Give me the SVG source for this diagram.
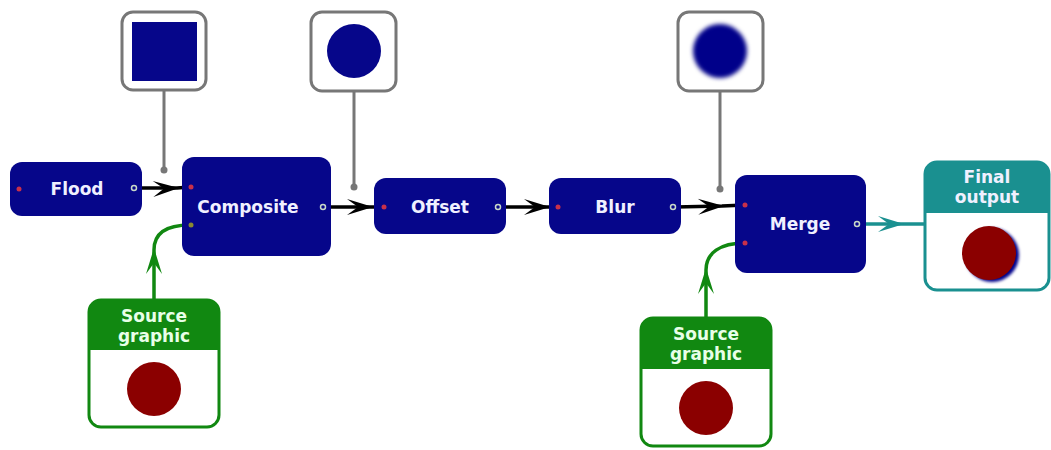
<svg xmlns="http://www.w3.org/2000/svg" width="1051" height="450" viewBox="0 0 1051 450">
<style>
.node{fill:#06068a;}
.lbl{font-family:"DejaVu Sans","Liberation Sans",sans-serif;font-weight:bold;font-size:17px;fill:#f0f0ff;text-anchor:middle;}
.thumb{fill:#fff;stroke:#777;stroke-width:3;}
.tline{stroke:#777;stroke-width:3;fill:none;}
.inp{fill:#c8304a;}
.outp{fill:none;stroke:#c8d8c8;stroke-width:1.5;}
.blk{stroke:#000;stroke-width:3.5;fill:none;marker-mid:url(#ab);}
.grn{stroke:#118811;stroke-width:3.5;fill:none;marker-mid:url(#ag);}
.teal{stroke:#1a9090;stroke-width:3.5;fill:none;marker-mid:url(#at);}
</style>
<defs>
<marker id="ab" viewBox="-26 -9 28 18" markerWidth="28" markerHeight="18" refX="0" refY="0" orient="auto" markerUnits="userSpaceOnUse"><path d="M2,0 L-24,-8 L-13,0 L-24,8 z" fill="#000"/></marker>
<marker id="ag" viewBox="-26 -9 28 18" markerWidth="28" markerHeight="18" refX="0" refY="0" orient="auto" markerUnits="userSpaceOnUse"><path d="M2,0 L-24,-8 L-13,0 L-24,8 z" fill="#118811"/></marker>
<marker id="at" viewBox="-26 -9 28 18" markerWidth="28" markerHeight="18" refX="0" refY="0" orient="auto" markerUnits="userSpaceOnUse"><path d="M2,0 L-24,-8 L-13,0 L-24,8 z" fill="#1a9090"/></marker>
<filter id="blur" x="-50%" y="-50%" width="200%" height="200%"><feGaussianBlur stdDeviation="2"/></filter>
<filter id="blur2" x="-50%" y="-50%" width="200%" height="200%"><feGaussianBlur stdDeviation="1.5"/></filter>
</defs>

<g id="connectors">
<path class="blk" d="M135,188 L177,188 L190,187"/>
<path class="blk" d="M325,207 L371,207 L384,207"/>
<path class="blk" d="M500,207 L548,207 L557,207"/>
<path class="blk" d="M675,207 L722,206 L745,205"/>
<path class="teal" d="M859,224 L902,224 L925,224"/>
<path class="grn" d="M154,300 L154,250 C154,233 166,225 190,225"/>
<path class="grn" d="M706,318 L706,270 C706,253 720,243 745,243"/>
<path class="tline" d="M164,90 L164,170"/><circle cx="164" cy="170" r="3.5" fill="#777"/>
<path class="tline" d="M354,91 L354,187"/><circle cx="354" cy="187" r="3.5" fill="#777"/>
<path class="tline" d="M720,91 L720,189"/><circle cx="720" cy="189" r="3.5" fill="#777"/>
</g>

<g id="thumb-flood">
<rect class="thumb" x="122" y="12" width="84" height="78" rx="11"/>
<rect x="132" y="22" width="65" height="59" fill="#06068a"/>
</g>
<g id="thumb-composite">
<rect class="thumb" x="311" y="12" width="85" height="79" rx="11"/>
<circle cx="354" cy="51" r="27" fill="#06068a"/>
</g>
<g id="thumb-blur">
<rect class="thumb" x="678" y="12" width="85" height="79" rx="11"/>
<circle cx="720" cy="51" r="27" fill="#06068a" filter="url(#blur)"/>
</g>

<g id="flood">
<rect class="node" x="10" y="162" width="132" height="54" rx="12"/>
<text class="lbl" x="77" y="195">Flood</text>
<circle class="inp" cx="19" cy="189" r="2.5"/>
<circle class="outp" cx="134" cy="188" r="2.5"/>
</g>
<g id="composite">
<rect class="node" x="182" y="157" width="149" height="99" rx="12"/>
<text class="lbl" x="248" y="213">Composite</text>
<circle class="inp" cx="191" cy="187" r="2.5"/>
<circle cx="191" cy="225" r="2.5" fill="#8a8a30"/>
<circle class="outp" cx="323" cy="207" r="2.5"/>
</g>
<g id="offset">
<rect class="node" x="374" y="178" width="132" height="56" rx="12"/>
<text class="lbl" x="440" y="213">Offset</text>
<circle class="inp" cx="384" cy="207" r="2.5"/>
<circle class="outp" cx="498" cy="207" r="2.5"/>
</g>
<g id="blur-node">
<rect class="node" x="549" y="178" width="132" height="56" rx="12"/>
<text class="lbl" x="615" y="213">Blur</text>
<circle class="inp" cx="558" cy="207" r="2.5"/>
<circle class="outp" cx="673" cy="207" r="2.5"/>
</g>
<g id="merge">
<rect class="node" x="735" y="175" width="131" height="98" rx="12"/>
<text class="lbl" x="800" y="230">Merge</text>
<circle class="inp" cx="745" cy="205" r="2.5"/>
<circle class="inp" cx="745" cy="243" r="2.5"/>
<circle class="outp" cx="857" cy="224" r="2.5"/>
</g>

<g id="final-output">
<rect x="925" y="162" width="124" height="128" rx="12" fill="#fff" stroke="#1a9090" stroke-width="3"/>
<path d="M925,213 L925,174 Q925,162 937,162 L1037,162 Q1049,162 1049,174 L1049,213 z" fill="#1a9090"/>
<text class="lbl" x="987" y="183">Final</text>
<text class="lbl" x="987" y="203">output</text>
<circle cx="992" cy="255" r="27" fill="#06068a" filter="url(#blur2)"/>
<circle cx="989" cy="253" r="27" fill="#8b0000"/>
</g>

<g id="source-graphic-1">
<rect x="89" y="300" width="130" height="127" rx="12" fill="#fff" stroke="#118811" stroke-width="3"/>
<path d="M89,350 L89,312 Q89,300 101,300 L207,300 Q219,300 219,312 L219,350 z" fill="#118811"/>
<text class="lbl" x="154" y="322" style="fill:#e8ffe8">Source</text>
<text class="lbl" x="154" y="342" style="fill:#e8ffe8">graphic</text>
<circle cx="154" cy="389" r="27" fill="#8b0000"/>
</g>
<g id="source-graphic-2">
<rect x="641" y="318" width="130" height="128" rx="12" fill="#fff" stroke="#118811" stroke-width="3"/>
<path d="M641,369 L641,330 Q641,318 653,318 L759,318 Q771,318 771,330 L771,369 z" fill="#118811"/>
<text class="lbl" x="706" y="340" style="fill:#e8ffe8">Source</text>
<text class="lbl" x="706" y="360" style="fill:#e8ffe8">graphic</text>
<circle cx="706" cy="408" r="27" fill="#8b0000"/>
</g>
</svg>
